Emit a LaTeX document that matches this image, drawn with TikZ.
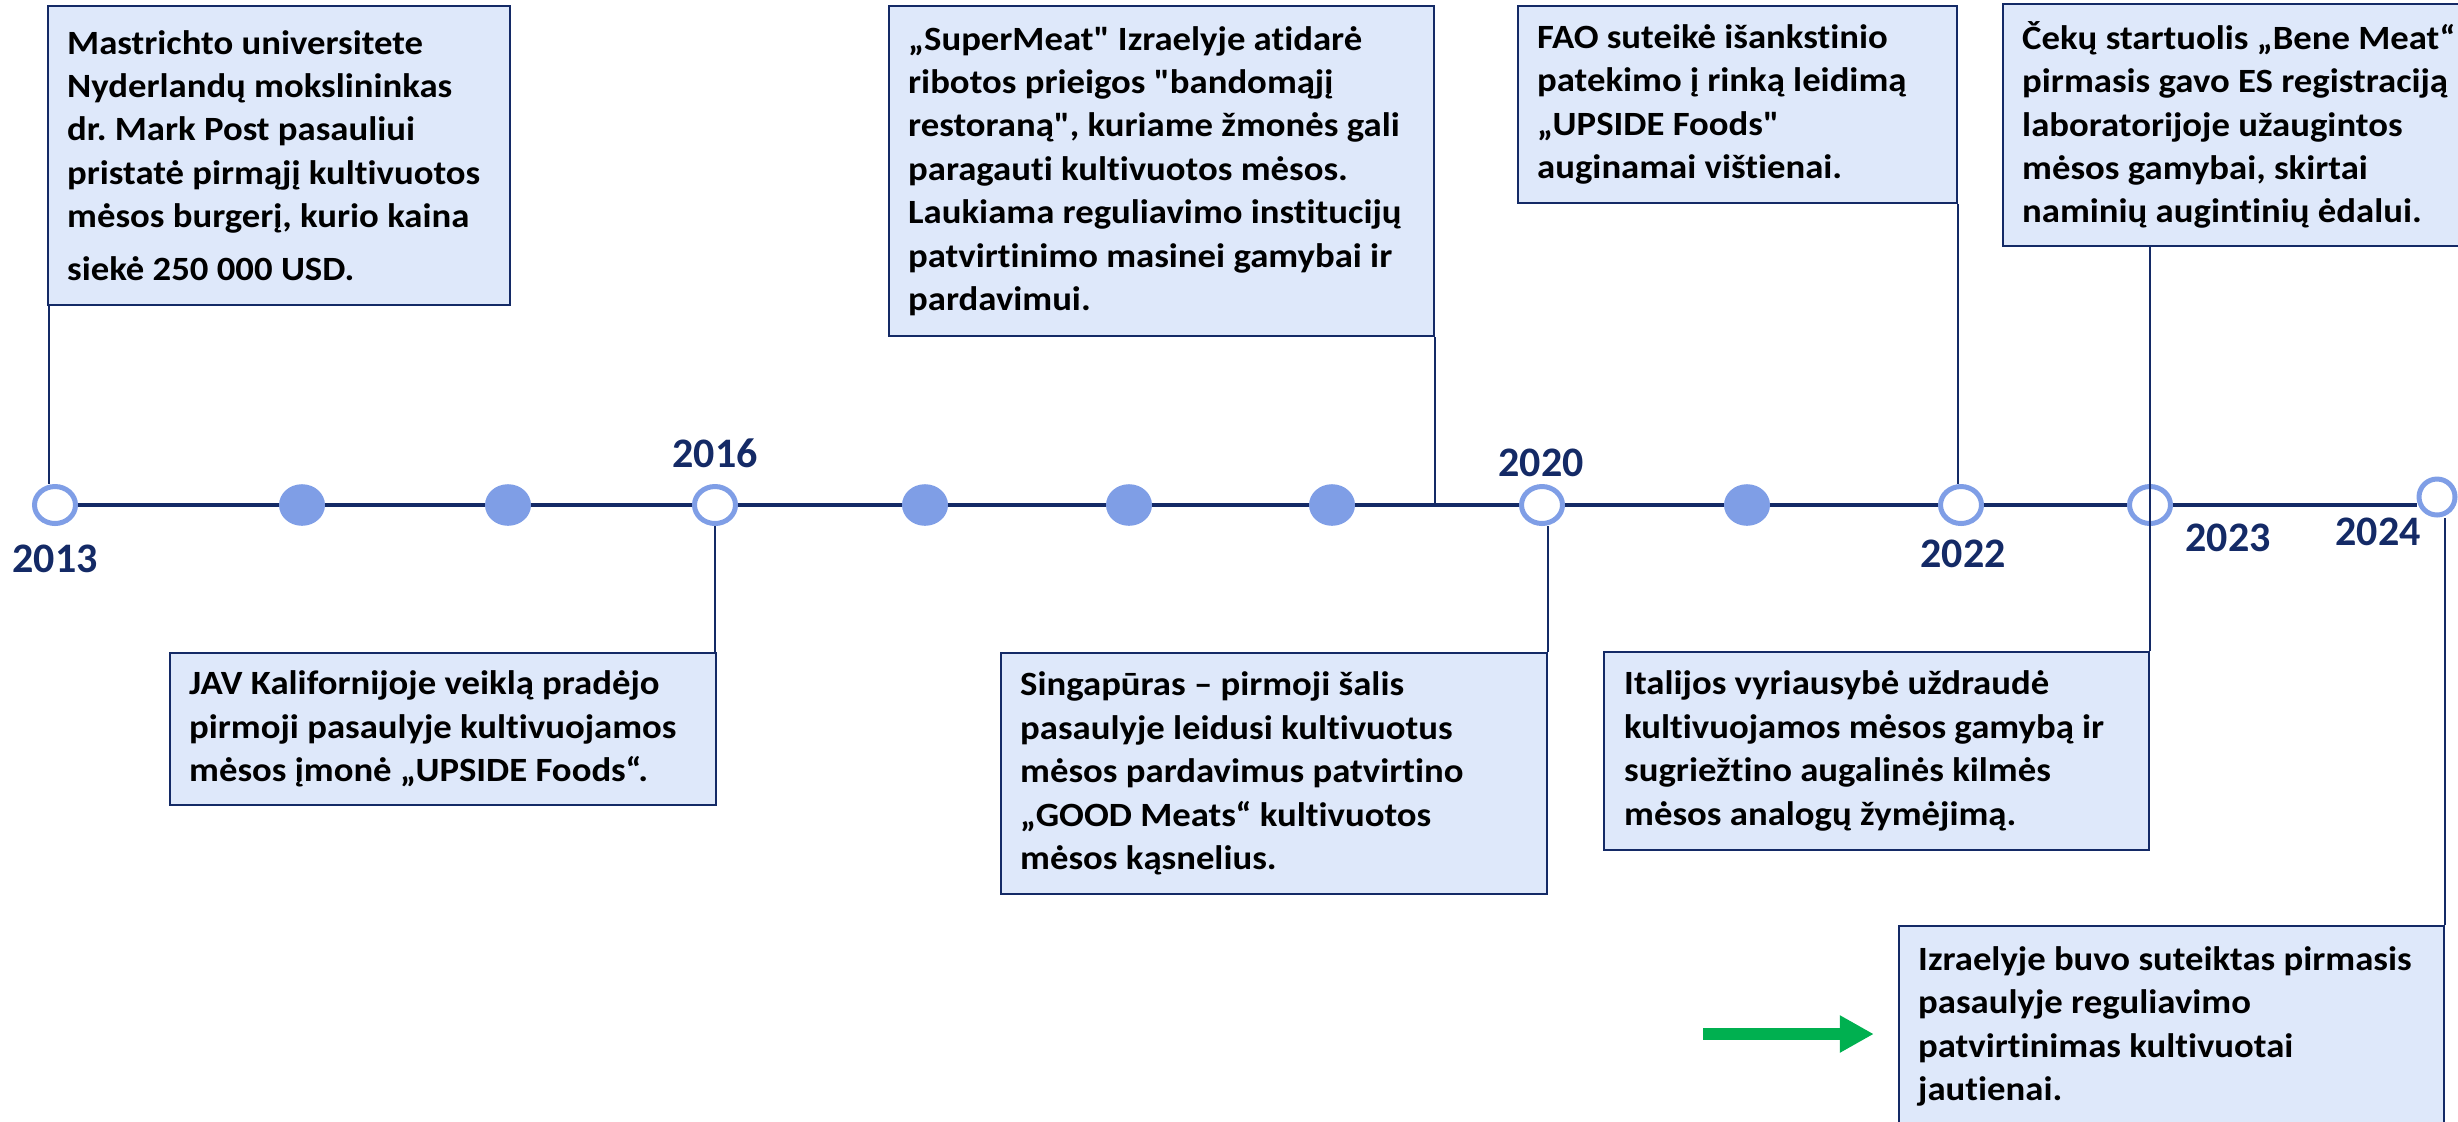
\documentclass[tikz,border=0pt]{standalone}
\usepackage{fontspec}
\setmainfont{Carlito}[Ligatures={TeXOff,NoCommon}, FakeStretch=1.08]
\newfontfamily\yearfont{Carlito}[Ligatures=TeXOff]
\usetikzlibrary{shapes.geometric,fit,arrows.meta}
\definecolor{navy}{RGB}{20,42,102}
\definecolor{boxfill}{RGB}{222,232,250}
\definecolor{circ}{RGB}{127,158,230}
\definecolor{arrowgreen}{RGB}{0,176,80}
\frenchspacing
\begin{document}
\begin{tikzpicture}[x=0.5pt,y=-0.5pt,
 evbox/.style={draw=navy, fill=boxfill, line width=1.2pt, inner sep=0pt, rectangle},
 evtext/.style={anchor=west, align=left, inner sep=0pt, font=\bfseries\fontsize{17pt}{21.7pt}\selectfont, text=black},
 opendot/.style={ellipse, draw=circ, fill=white, line width=2.5pt, minimum width=20.5pt, minimum height=18.5pt, inner sep=0pt},
 fulldot/.style={ellipse, fill=circ, minimum width=23pt, minimum height=20.8pt, inner sep=0pt},
 yearlbl/.style={font=\yearfont\bfseries\fontsize{21pt}{25pt}\selectfont, text=navy, inner sep=0pt},
 conn/.style={draw=navy, line width=0.9pt},
 axis/.style={draw=navy, line width=1.75pt},
 garrow/.style={draw=arrowgreen, line width=6pt, -{Triangle[length=17pt,width=17.5pt]}}
]
\useasboundingbox (0,0) rectangle (2458,1121);

% timeline dots
\node[opendot] (c13) at (55,505) {};
\node[fulldot] (d1) at (302,505) {};
\node[fulldot] (d2) at (508,505) {};
\node[opendot] (c16) at (715,505) {};
\node[fulldot] (d3) at (925,505) {};
\node[fulldot] (d4) at (1129,505) {};
\node[fulldot] (d5) at (1332,505) {};
\node[opendot] (c20) at (1542,505) {};
\node[fulldot] (d6) at (1747,505) {};
\node[opendot] (c22) at (1961,505) {};
\node[opendot] (c23) at (2150,505) {};
\node[opendot, minimum width=18pt, minimum height=18pt] (c24) at (2437,497) {};

% axis line segments between the dots
\path[axis] (c13.east) -- (d1.west) (d1.east) -- (d2.west) (d2.east) -- (c16.west)
  (c16.east) -- (d3.west) (d3.east) -- (d4.west) (d4.east) -- (d5.west)
  (d5.east) -- (c20.west) (c20.east) -- (d6.west) (d6.east) -- (c22.west)
  (c22.east) -- (c23.west) (c23.east) -- (c24.west |- c23.east);

% year labels
\node[yearlbl] (y13) at (55,559) {2013};
\node[yearlbl] (y16) at (715,453) {2016};
\node[yearlbl] (y20) at (1541,463) {2020};
\node[yearlbl] (y22) at (1963,554) {2022};
\node[yearlbl] (y23) at (2228,538) {2023};
\node[yearlbl] (y24) at (2378,532) {2024};

% boxes
\node[evbox, fit={(48,6) (510,305)}] (b1) {};
\node[evtext] (t1) at ([xshift=10pt]b1.west) {Mastrichto universitete\\
Nyderlandų mokslininkas\\
dr. Mark Post pasauliui\\
pristatė pirmąjį kultivuotos\\
mėsos burgerį, kurio kaina\\[4.8pt]
siekė 250 000 USD.};

\node[evbox, fit={(889,6) (1434,336)}] (b2) {};
\node[evtext] (t2) at ([xshift=10pt]b2.west) {„SuperMeat" Izraelyje atidarė\\
ribotos prieigos "bandomąjį\\
restoraną", kuriame žmonės gali\\
paragauti kultivuotos mėsos.\\
Laukiama reguliavimo institucijų\\
patvirtinimo masinei gamybai ir\\
pardavimui.};

\node[evbox, fit={(1518,6) (1957,203)}] (b3) {};
\node[evtext] (t3) at ([xshift=10pt]b3.west) {FAO suteikė išankstinio\\
patekimo į rinką leidimą\\
„UPSIDE Foods"\\
auginamai vištienai.};

\node[evbox, fit={(2003,4) (2475,246)}] (b4) {};
\node[evtext] (t4) at ([xshift=10pt]b4.west) {Čekų startuolis „Bene Meat“\\
pirmasis gavo ES registraciją\\
laboratorijoje užaugintos\\
mėsos gamybai, skirtai\\
naminių augintinių ėdalui.};

\node[evbox, fit={(170,653) (716,805)}] (b5) {};
\node[evtext] (t5) at ([xshift=10pt]b5.west) {JAV Kalifornijoje veiklą pradėjo\\
pirmoji pasaulyje kultivuojamos\\
mėsos įmonė „UPSIDE Foods“.};

\node[evbox, fit={(1001,653) (1547,894)}] (b6) {};
\node[evtext] (t6) at ([xshift=10pt]b6.west) {Singapūras – pirmoji šalis\\
pasaulyje leidusi kultivuotus\\
mėsos pardavimus patvirtino\\
„GOOD Meats“ kultivuotos\\
mėsos kąsnelius.};

\node[evbox, fit={(1604,652) (2149,850)}] (b7) {};
\node[evtext] (t7) at ([xshift=10.5pt]b7.west) {Italijos vyriausybė uždraudė\\
kultivuojamos mėsos gamybą ir\\
sugriežtino augalinės kilmės\\
mėsos analogų žymėjimą.};

\node[evbox, fit={(1899,926) (2444,1127)}] (b8) {};
\node[evtext] (t8) at ([xshift=10pt]b8.west) {Izraelyje buvo suteiktas pirmasis\\
pasaulyje reguliavimo\\
patvirtinimas kultivuotai\\
jautienai.};

% connectors
\draw[conn] ([xshift=1pt]b1.south west) -- ([xshift=1pt]b1.south west |- c13.north);
\draw[conn] (b2.south east) -- (b2.south east |- c20.center);
\draw[conn] (b3.south east) -- (b3.south east |- c22.north);
\draw[conn] (c23 |- b4.south) -- (c23 |- b7.north);
\draw[conn] (c16.south) -- (c16 |- b5.north);
\draw[conn] (b6.north east) -- (b6.north east |- c20.south);
\draw[conn] (b8.north east) -- (b8.north east |- c24.south);

% green arrow
\coordinate (gstart) at (1703,1034);
\draw[garrow] (gstart) -- ([xshift=-12pt]b8.west |- gstart);
\end{tikzpicture}
\end{document}
